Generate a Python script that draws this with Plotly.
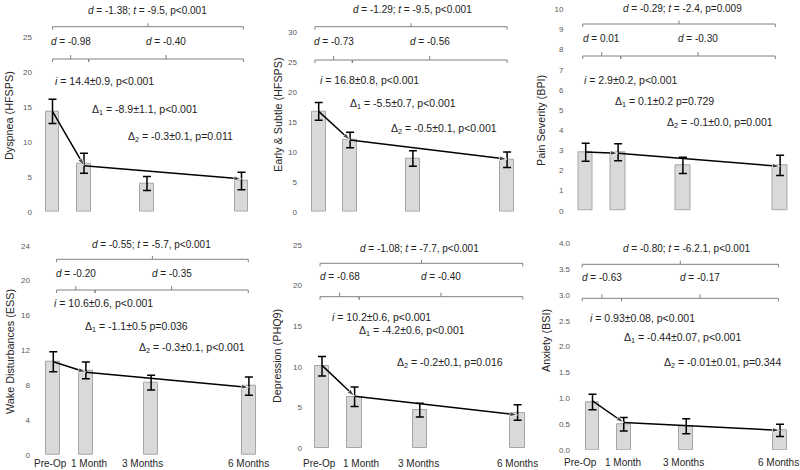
import plotly.graph_objects as go

# ---------------- data ----------------
months = [0, 1, 3, 6]
x_labels = ["Pre-Op", "1 Month", "3 Months", "6 Months"]
fit_months = [0, 1, 6]

y_titles = ["Dyspnea (HFSPS)", "Early & Subtle (HFSPS)", "Pain Severity (BPI)",
            "Wake Disturbances (ESS)", "Depression (PHQ9)", "Anxiety (BSI)"]

dyspnea_mean = [14.4, 6.95, 4.05, 4.4]
dyspnea_err = [1.75, 1.43, 1.0, 1.25]
dyspnea_fit = [14.4, 6.6, 4.7]

early_mean = [16.8, 12.0, 8.9, 8.7]
early_err = [1.5, 1.3, 1.3, 1.3]
early_fit = [16.8, 12.0, 8.8]

pain_mean = [2.9, 2.9, 2.25, 2.25]
pain_err = [0.45, 0.42, 0.4, 0.5]
pain_fit = [2.92, 2.85, 2.2]

wake_mean = [10.7, 9.7, 8.3, 7.9]
wake_err = [1.15, 0.95, 0.85, 1.05]
wake_fit = [10.7, 9.5, 7.75]

depr_mean = [10.1, 6.35, 4.7, 4.4]
depr_err = [1.2, 1.2, 0.85, 0.95]
depr_fit = [10.2, 6.4, 4.1]

anx_mean = [0.93, 0.5, 0.46, 0.38]
anx_err = [0.15, 0.13, 0.145, 0.12]
anx_fit = [0.95, 0.53, 0.38]

means = [dyspnea_mean, early_mean, pain_mean, wake_mean, depr_mean, anx_mean]
errs = [dyspnea_err, early_err, pain_err, wake_err, depr_err, anx_err]
fits = [dyspnea_fit, early_fit, pain_fit, wake_fit, depr_fit, anx_fit]

y_max = [30, 35, 10, 24, 25, 4]
y_dtick = [5, 5, 1, 4, 5, 0.5]

d_overall = ["-1.38", "-1.29", "-0.29", "-0.55", "-1.08", "-0.80"]
t_overall = ["-9.5", "-9.5", "-2.4", "-5.7", "-7.7", "-6.2.1"]
p_overall = ["p<0.001", "p<0.001", "p=0.009", "p<0.001", "p<0.001", "p<0.001"]
d_early = ["-0.98", "-0.73", "0.01", "-0.20", "-0.68", "-0.63"]
d_late = ["-0.40", "-0.56", "-0.30", "-0.35", "-0.40", "-0.17"]
i_stats = ["14.4±0.9, p<0.001", "16.8±0.8, p<0.001", "2.9±0.2, p<0.001",
           "10.6±0.6, p<0.001", "10.2±0.6, p<0.001", "0.93±0.08, p<0.001"]
delta1_stats = ["-8.9±1.1, p<0.001", "-5.5±0.7, p<0.001", "0.1±0.2 p=0.729",
                "-1.1±0.5 p=0.036", "-4.2±0.6, p<0.001", "-0.44±0.07, p<0.001"]
delta2_stats = ["-0.3±0.1, p=0.011", "-0.5±0.1, p<0.001", "-0.1±0.0, p=0.001",
                "-0.3±0.1, p<0.001", "-0.2±0.1, p=0.016", "-0.01±0.01, p=0.344"]

# ---------------- layout geometry (pixels) ----------------
W, H = 800, 470
# a: px of month 0, b: px per month, y0: px of value 0, yt: px of y max, lr: tick label right edge
geo = [
    dict(a=52.5, b=31.5, y0=211.7, yt=2.7, lr=29),
    dict(a=318.7, b=31.4, y0=211.7, yt=2.7, lr=294),
    dict(a=585.7, b=32.4, y0=210.7, yt=9.3, lr=560.5),
    dict(a=53.3, b=32.6, y0=455.0, yt=245.7, lr=27),
    dict(a=322.0, b=32.6, y0=448.3, yt=245.0, lr=299),
    dict(a=592.5, b=31.25, y0=450.0, yt=243.3, lr=567),
]
# annotation/bracket positions: y in px, x in months
ann = [
    dict(top=10, br_top=26.7, sm_lab=41.7, sm_br=59, bl=0.0, bj=1.15, brr=6.06,
         i=(0.0, 81), d1=(1.2, 110), d2=(2.33, 136.7), title=(9, 116), xl=None),
    dict(top=9.3, br_top=26.7, sm_lab=41.7, sm_br=60, bl=-0.12, bj=1.07, brr=6.0,
         i=(-0.01, 80), d1=(0.94, 104), d2=(2.23, 129), title=(278, 115), xl=None),
    dict(top=8.3, br_top=24, sm_lab=38.3, sm_br=56, bl=-0.09, bj=1.08, brr=5.85,
         i=(-0.12, 80), d1=(0.85, 101.7), d2=(2.45, 123.3), title=(541, 121), xl=None),
    dict(top=244, br_top=259.3, sm_lab=273.3, sm_br=290, bl=0.1, bj=1.28, brr=5.98,
         i=(-0.05, 303.3), d1=(0.92, 326.7), d2=(2.57, 348.3), title=(10, 352),
         xl=(463, [-3, 3.5, -8.5, -0.7])),
    dict(top=248.3, br_top=263.3, sm_lab=276.7, sm_br=296.7, bl=-0.06, bj=1.14, brr=6.16,
         i=(0.25, 317.3), d1=(1.06, 331), d2=(2.24, 362.7), title=(277, 356),
         xl=(463, [-2.8, 5.9, -1, 0])),
    dict(top=248.3, br_top=264.3, sm_lab=277.7, sm_br=298.3, bl=-0.33, bj=0.93, brr=5.95,
         i=(-0.13, 318.3), d1=(0.93, 338.3), d2=(2.21, 363.3), title=(546, 341),
         xl=(462, [-12.5, -1.2, -3, -1.7])),
]

FONT = "Arial, Liberation Sans, sans-serif"
TXT = "#222222"
BR = "#808080"


def py(p):
    return 1 - p / H


def esc(s):
    return s.replace("<", "&lt;")


fig = go.Figure()
layout = dict(width=W, height=H, margin=dict(l=0, r=0, t=0, b=0, autoexpand=False),
              paper_bgcolor="white", plot_bgcolor="white", showlegend=False,
              font=dict(family=FONT, color=TXT), bargap=0)
annotations = []
shapes = []

for k in range(6):
    n = "" if k == 0 else str(k + 1)
    g = geo[k]
    a = ann[k]
    xa, ya = "x" + n, "y" + n
    xmin = (g["lr"] + 4 - g["a"]) / g["b"]
    xmax = 6.6
    dom_x = [(g["a"] + xmin * g["b"]) / W, min(1.0, (g["a"] + xmax * g["b"]) / W)]
    xmax = (dom_x[1] * W - g["a"]) / g["b"]
    dom_y = [py(g["y0"]), py(g["yt"])]

    fig.add_trace(go.Bar(
        x=months, y=means[k], width=0.44, xaxis=xa, yaxis=ya,
        marker=dict(color="#d9d9d9", line=dict(color="#a6a6a6", width=1)),
        error_y=dict(type="data", array=errs[k], color="black", thickness=1.5, width=4),
    ))
    fig.add_trace(go.Scatter(
        x=fit_months, y=fits[k], xaxis=xa, yaxis=ya, mode="lines+markers",
        line=dict(color="black", width=1.5),
        marker=dict(symbol="arrow", angleref="previous", size=[0, 8, 8], color="black"),
        cliponaxis=False,
    ))

    layout["xaxis" + n] = dict(
        domain=dom_x, range=[xmin, xmax], anchor=ya, showgrid=False, zeroline=False,
        showline=False, ticks="", tickvals=months, ticktext=x_labels, tickangle=0,
        automargin=False, showticklabels=False, fixedrange=True)
    layout["yaxis" + n] = dict(
        domain=dom_y, range=[0, y_max[k]], anchor=xa, showgrid=False, zeroline=False,
        showline=False, ticks="", dtick=y_dtick[k], tick0=0, automargin=False,
        tickformat=".1f" if k == 5 else None,
        tickfont=dict(size=8, color="#595959"), fixedrange=True)

    # category labels under the bottom row
    if a["xl"] is not None:
        ylab, shifts = a["xl"]
        for m, lab, sh in zip(months, x_labels, shifts):
            annotations.append(dict(
                xref=xa, yref="paper", x=m, y=py(ylab), xanchor="center", yanchor="middle",
                xshift=sh, text=lab, showarrow=False, font=dict(size=10, color="#262626")))

    # texts
    annotations.append(dict(
        xref=xa, yref="paper", x=3, y=py(a["top"]), xanchor="center", yanchor="middle",
        text=f"<i>d</i> = {d_overall[k]}; <i>t</i> = {t_overall[k]}, {esc(p_overall[k])}",
        showarrow=False, font=dict(size=10, color=TXT)))
    annotations.append(dict(
        xref=xa, yref="paper", x=(a["bl"] + a["bj"]) / 2, y=py(a["sm_lab"]),
        xanchor="center", yanchor="middle", text=f"<i>d</i> = {d_early[k]}",
        showarrow=False, font=dict(size=10, color=TXT)))
    annotations.append(dict(
        xref=xa, yref="paper", x=(a["bj"] + a["brr"]) / 2, y=py(a["sm_lab"]),
        xanchor="center", yanchor="middle", text=f"<i>d</i> = {d_late[k]}",
        showarrow=False, font=dict(size=10, color=TXT)))
    annotations.append(dict(
        xref=xa, yref="paper", x=a["i"][0], y=py(a["i"][1]), xanchor="left", yanchor="middle",
        text=f"<i>i</i> = {esc(i_stats[k])}", showarrow=False, font=dict(size=10.5, color=TXT)))
    annotations.append(dict(
        xref=xa, yref="paper", x=a["d1"][0], y=py(a["d1"][1]), xanchor="left", yanchor="middle",
        text=f"Δ<sub>1</sub> = {esc(delta1_stats[k])}", showarrow=False,
        font=dict(size=10.5, color=TXT)))
    annotations.append(dict(
        xref=xa, yref="paper", x=a["d2"][0], y=py(a["d2"][1]), xanchor="left", yanchor="middle",
        text=f"Δ<sub>2</sub> = {esc(delta2_stats[k])}", showarrow=False,
        font=dict(size=10.5, color=TXT)))
    annotations.append(dict(
        xref="paper", yref="paper", x=a["title"][0] / W, y=py(a["title"][1]),
        xanchor="center", yanchor="middle", textangle=-90, text=y_titles[k],
        showarrow=False, font=dict(size=10.8, color="#262626")))

    # brackets
    hook = 3 / H
    tick = 3.5 / H

    def bracket(x0, x1, yb, tk):
        xm = (x0 + x1) / 2
        shapes.append(dict(type="path", xref=xa, yref="paper",
                           path=f"M {x0},{yb - hook} L {x0},{yb} L {x1},{yb} L {x1},{yb - hook}",
                           line=dict(color=BR, width=1)))
        shapes.append(dict(type="path", xref=xa, yref="paper",
                           path=f"M {xm},{yb} L {xm},{yb + tk}",
                           line=dict(color=BR, width=1)))

    bracket(a["bl"], a["brr"], py(a["br_top"]), tick)
    bracket(a["bl"], a["bj"], py(a["sm_br"]), 4 / H)
    bracket(a["bj"], a["brr"], py(a["sm_br"]), 4 / H)

layout["annotations"] = annotations
layout["shapes"] = shapes
fig.update_layout(**layout)

fig.write_html("out.html", config={"displayModeBar": False},
               post_script="document.body.style.margin='0';")
